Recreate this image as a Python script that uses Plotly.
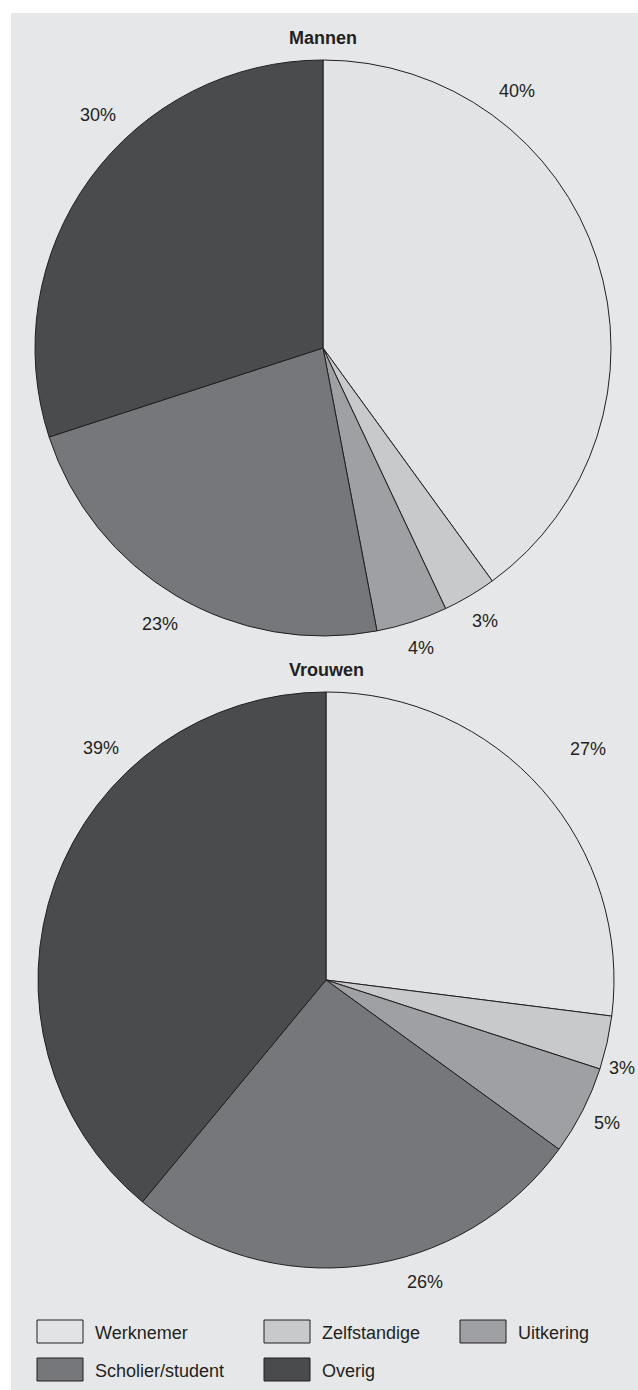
import math

import plotly.graph_objects as go

W, H = 638, 1390

categories = ["Werknemer", "Zelfstandige", "Uitkering", "Scholier/student", "Overig"]
mannen = [40, 3, 4, 23, 30]
vrouwen = [27, 3, 5, 26, 39]

# grey scale used in the publication
colors = ["#e2e3e5", "#c8c9cb", "#9fa0a3", "#76777a", "#4a4b4d"]
PANEL = "#e6e7e9"
INK = "#231f20"
FONT = "Liberation Sans, Arial, sans-serif"
FS = 18

# pie placement in pixels: (centre x, centre y, radius)
PIES = {
    "Mannen": (323, 348, 288),
    "Vrouwen": (326, 980, 288),
}
LABEL_GAP = 16
# label tweaks the original made: angle shift (deg) and radial pull (px)
LABEL_NUDGE = {
    ("Mannen", "Werknemer"): -35,
    ("Mannen", "Overig"): 10,
    ("Vrouwen", "Overig"): 26,
    ("Vrouwen", "Scholier/student"): -11,
    ("Vrouwen", "Zelfstandige"): 4,
}
LABEL_PULL = {
    ("Vrouwen", "Werknemer"): 25,
    ("Vrouwen", "Zelfstandige"): -10,
    ("Vrouwen", "Uitkering"): -4,
}


def px_x(x):
    return x / W


def px_y(y):
    return 1 - y / H


def add_pie(fig, name, values):
    cx, cy, r = PIES[name]
    fig.add_trace(go.Pie(
        labels=categories,
        values=values,
        name=name,
        sort=False,
        direction="clockwise",
        rotation=0,
        marker=dict(colors=colors, line=dict(color=INK, width=1)),
        textinfo="none",
        domain=dict(x=[px_x(cx - r), px_x(cx + r)],
                    y=[px_y(cy + r), px_y(cy - r)]),
        showlegend=False,
        hoverinfo="label+value",
    ))

    # percentage labels outside the slices, at (nudged) mid-angle
    total = sum(values)
    cum = 0
    for cat, v in zip(categories, values):
        mid = (cum + v / 2) / total * 360 + LABEL_NUDGE.get((name, cat), 0)
        cum += v
        a = math.radians(mid)
        text = f"{v}%"
        half_w = len(text) * 6.5
        extent = abs(math.sin(a)) * half_w + abs(math.cos(a)) * 8
        d = r + LABEL_GAP + extent + LABEL_PULL.get((name, cat), 0)
        fig.add_annotation(
            text=text, xref="paper", yref="paper", showarrow=False,
            x=px_x(cx + d * math.sin(a)), y=px_y(cy - d * math.cos(a)),
            xanchor="center", yanchor="middle",
            font=dict(family=FONT, size=FS, color=INK),
        )

    # title above the pie
    fig.add_annotation(
        text=f"<b>{name}</b>", xref="paper", yref="paper", showarrow=False,
        x=px_x(cx), y=px_y(cy - r - 22), yanchor="middle",
        font=dict(family=FONT, size=FS, color=INK),
    )


fig = go.Figure()
add_pie(fig, "Mannen", mannen)
add_pie(fig, "Vrouwen", vrouwen)

# grey panel behind everything (white strip top and left)
fig.add_shape(type="rect", xref="paper", yref="paper",
              x0=px_x(11), x1=1, y0=0, y1=px_y(13),
              fillcolor=PANEL, line_width=0, layer="below")

# hand-built legend with large swatches
col_x = [37, 264, 460]
row_y = [1320, 1358]
for i, (cat, col) in enumerate(zip(categories, colors)):
    sx = col_x[i % 3]
    sy = row_y[i // 3]
    fig.add_shape(type="rect", xref="paper", yref="paper",
                  x0=px_x(sx), x1=px_x(sx + 46), y0=px_y(sy + 23), y1=px_y(sy),
                  fillcolor=col, line=dict(color=INK, width=1))
    fig.add_annotation(text=cat, x=px_x(sx + 56), y=px_y(sy + 13),
                       xref="paper", yref="paper", xanchor="left",
                       yanchor="middle", showarrow=False,
                       font=dict(family=FONT, size=FS, color=INK))

fig.update_layout(
    width=W,
    height=H,
    margin=dict(l=0, r=0, t=0, b=0),
    paper_bgcolor="white",
    plot_bgcolor="white",
    font=dict(family=FONT, color=INK),
)

fig.write_html(
    "out.html",
    config={"displayModeBar": False},
    post_script="document.body.style.margin = '0';",
)
